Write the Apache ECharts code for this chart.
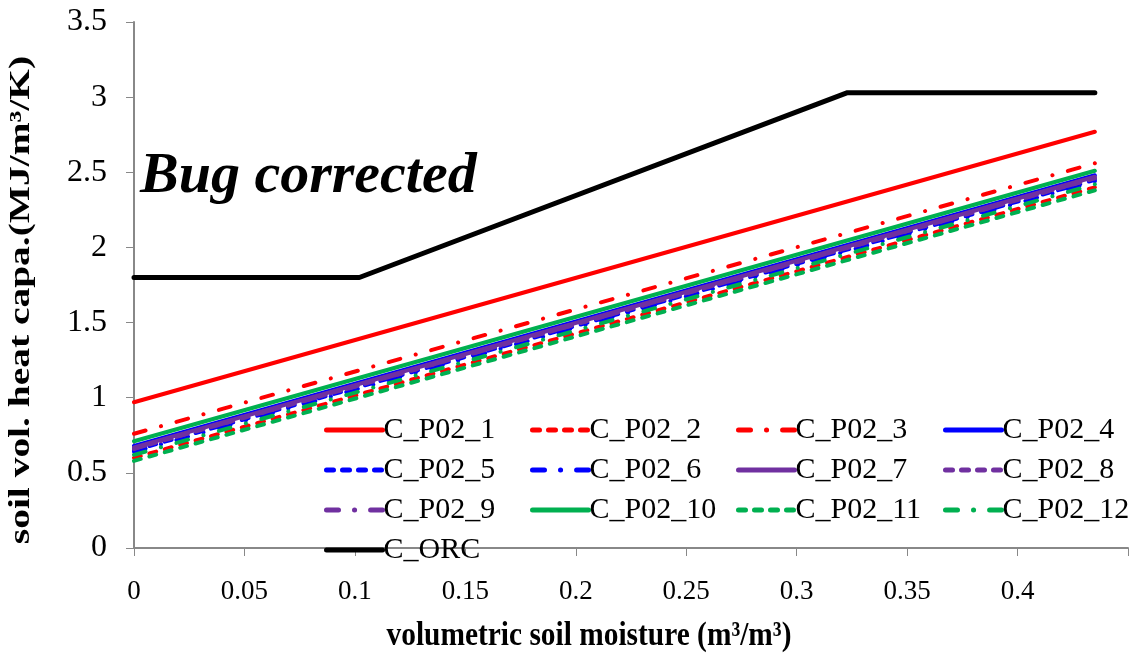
<!DOCTYPE html>
<html><head><meta charset="utf-8">
<script src="https://cdn.jsdelivr.net/npm/echarts@6/dist/echarts.min.js"></script>
<style>html,body{margin:0;padding:0;background:#fff}#c{width:1131px;height:659px}</style>
</head><body><div id="c"></div>
<script>
// x values of the two ends of each straight line
var xEnds = [0, 0.435];
// series names
var names = ['C_P02_1','C_P02_2','C_P02_3','C_P02_4','C_P02_5','C_P02_6','C_P02_7','C_P02_8','C_P02_9','C_P02_10','C_P02_11','C_P02_12'];
// values at x=0 and x=0.435 for each C_P02 series
var startVals = [0.97, 0.60, 0.76, 0.68, 0.65, 0.64, 0.67, 0.66, 0.66, 0.71, 0.58, 0.62];
var endVals   = [2.77, 2.40, 2.56, 2.48, 2.45, 2.44, 2.47, 2.46, 2.46, 2.51, 2.38, 2.42];
// C_ORC polyline
var orcX = [0, 0.102, 0.323, 0.435];
var orcY = [1.8, 1.8, 3.03, 3.03];
// tick labels
var yTicks = [0, 0.5, 1, 1.5, 2, 2.5, 3, 3.5];
var xTicks = [0, 0.05, 0.1, 0.15, 0.2, 0.25, 0.3, 0.35, 0.4];

var RED='#FF0000', BLUE='#0000FF', PUR='#7030A0', GRN='#00B050';
var colors = [RED,RED,RED,BLUE,BLUE,BLUE,PUR,PUR,PUR,GRN,GRN,GRN];
var DASH=[7,9], DASHDOT=[12,16,0.1,16];
var types = ['solid',DASH,DASHDOT,'solid',DASH,DASHDOT,'solid',DASH,DASHDOT,'solid',DASH,DASHDOT];

var series = names.map(function(n,i){
  return {name:n,type:'line',showSymbol:false,symbol:'none',animation:false,
    data:[[xEnds[0],startVals[i]],[xEnds[1],endVals[i]]],
    lineStyle:{color:colors[i],width:4,type:types[i],cap:'round'},itemStyle:{color:colors[i]}};
});
series.push({name:'C_ORC',type:'line',showSymbol:false,symbol:'none',animation:false,
  data:orcX.map(function(x,i){return [x,orcY[i]];}),
  lineStyle:{color:'#000',width:5,cap:'round',join:'round'},itemStyle:{color:'#000'}});

var F='"Liberation Serif","Times New Roman",serif';
function leg(left,data){
  return {orient:'vertical',left:left,top:405,itemWidth:56,itemHeight:12,itemGap:0,
    data:data,selectedMode:false,
    itemStyle:{opacity:0},
    lineStyle:{width:5},
    textStyle:{fontFamily:F,fontSize:30,color:'#000',lineHeight:40,padding:[0,0,0,-4]}};
}
var chart = echarts.init(document.getElementById('c'),null,{renderer:'canvas'});
chart.setOption({
  animation:false,
  grid:{left:134,right:1,top:22,bottom:111,containLabel:false},
  xAxis:{type:'value',min:0,max:0.45,interval:0.05,
    axisLine:{lineStyle:{color:'#888',width:2}},
    axisTick:{show:true,length:8,lineStyle:{color:'#888',width:1}},
    splitLine:{show:false},
    axisLabel:{fontFamily:F,fontSize:27,color:'#000',margin:30,
      formatter:function(v){var r=Math.round(v*100)/100;return xTicks.indexOf(r)>=0?String(r):'';}}},
  yAxis:{type:'value',min:0,max:3.5,interval:0.5,
    axisLine:{show:true,lineStyle:{color:'#888',width:2}},
    axisTick:{show:true,inside:false,length:8,lineStyle:{color:'#888',width:1}},
    splitLine:{show:false},
    axisLabel:{fontFamily:F,fontSize:32,color:'#000',margin:27,
      formatter:function(v){var r=Math.round(v*10)/10;return yTicks.indexOf(r)>=0?String(r):'';}}},
  legend:[
    leg(319,['C_P02_1','C_P02_5','C_P02_9','C_ORC']),
    leg(525,['C_P02_2','C_P02_6','C_P02_10']),
    leg(731,['C_P02_3','C_P02_7','C_P02_11']),
    leg(938,['C_P02_4','C_P02_8','C_P02_12'])
  ],
  graphic:[
    {type:'text',left:140,top:148,style:{text:'Bug corrected',font:'italic bold 58px '+F,fill:'#000'}},
    {type:'text',x:22,y:300,rotation:Math.PI/2,scaleX:1.36,scaleY:1.0,style:{text:'soil vol. heat capa.(MJ/m\u00b3/K)',font:'bold 29px '+F,fill:'#000',textAlign:'center',textVerticalAlign:'middle'}},
    {type:'text',x:589,y:636,scaleX:1.05,scaleY:1.2,style:{text:'volumetric soil moisture (m\u00b3/m\u00b3)',font:'bold 28px '+F,fill:'#000',textAlign:'center',textVerticalAlign:'middle'}}
  ],
  series:series
});
</script></body></html>
